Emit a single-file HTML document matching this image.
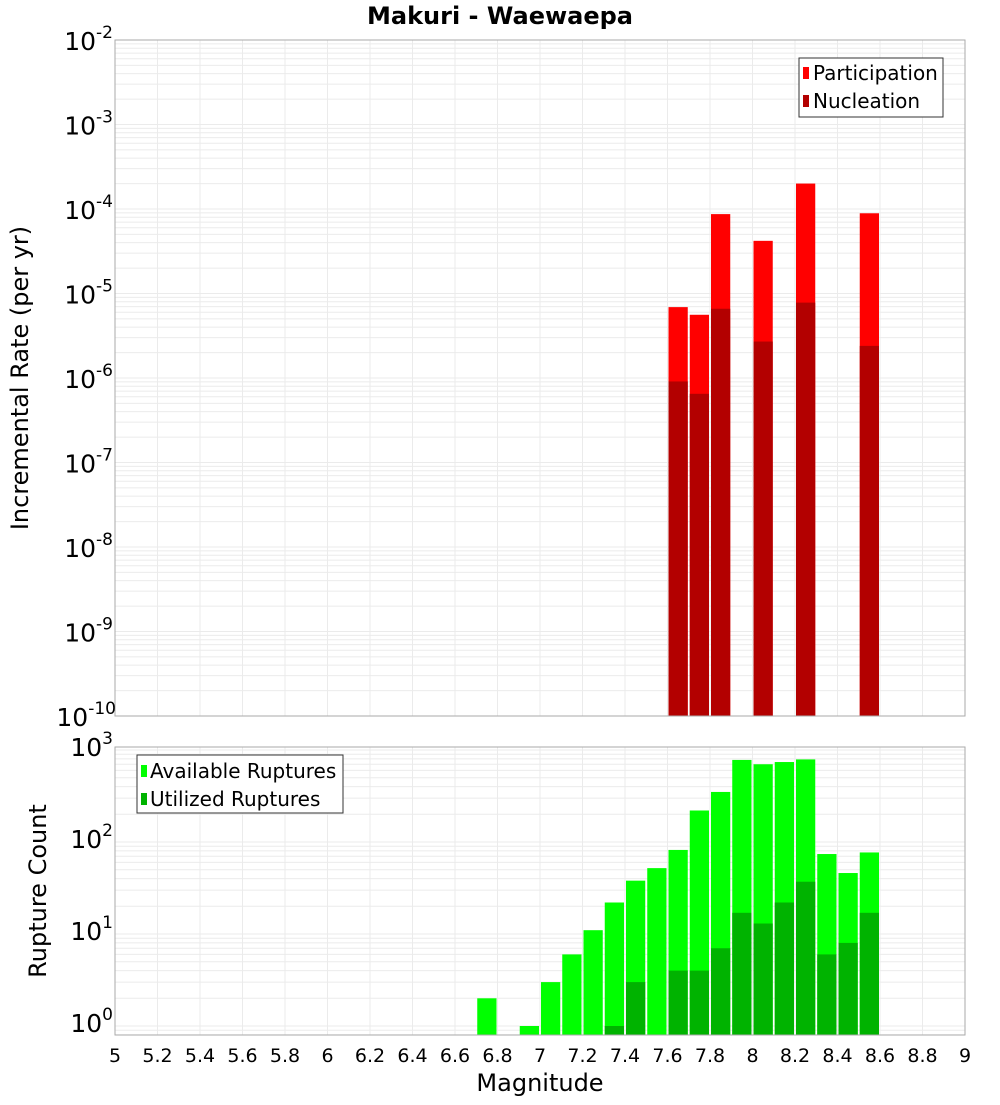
<!DOCTYPE html>
<html><head><meta charset="utf-8"><style>
body{margin:0;background:#fff;width:1000px;height:1100px;overflow:hidden}
svg{font-family:"DejaVu Sans","Liberation Sans",sans-serif}
</style></head><body>
<svg id="c" width="1000" height="1100" xmlns="http://www.w3.org/2000/svg"></svg>
<script>
const binCenters=[7.65,7.75,7.85,8.05,8.25,8.55];
const participation=[6.9e-6,5.6e-6,8.7e-5,4.2e-5,2.0e-4,8.9e-5];
const nucleation=[9.1e-7,6.5e-7,6.6e-6,2.7e-6,7.8e-6,2.4e-6];
const countBins=[6.75,6.95,7.05,7.15,7.25,7.35,7.45,7.55,7.65,7.75,7.85,7.95,8.05,8.15,8.25,8.35,8.45,8.55];
const available=[2,1,3,6,11,22,38,52,82,220,350,780,700,740,790,74,46,77];
const utilized=[0,0,0,0,0,1,3,0,4,4,7,17,13,22,37,6,8,17];
const xTicks=[5,5.2,5.4,5.6,5.8,6,6.2,6.4,6.6,6.8,7,7.2,7.4,7.6,7.8,8,8.2,8.4,8.6,8.8,9];
const topExps=[-2,-3,-4,-5,-6,-7,-8,-9,-10];
const botExps=[0,1,2,3];

const NS="http://www.w3.org/2000/svg",svg=document.getElementById('c');
function el(t,a,p){const e=document.createElementNS(NS,t);for(const k in a)e.setAttribute(k,a[k]);(p||svg).appendChild(e);return e;}
const L=115,R=965;
const X=v=>L+(v-5)/4*(R-L);
const T0=40,T1=716,Yt=v=>T0+(-2-Math.log10(v))*(T1-T0)/8;
const B0=747,B1=1035,Yb=v=>1026-Math.log10(v)*92;

function grid(top,bot,yf,lo,hi,name){
  const g=el('g',{});
  
  
  for(const t of xTicks) el('line',{x1:X(t),x2:X(t),y1:top,y2:bot,stroke:'#ebebeb'},g);
  for(let e=lo;e<=hi;e++)for(let m=1;m<10;m++){const y=yf(m*Math.pow(10,e));if(y>=top&&y<=bot)el('line',{x1:L,x2:R,y1:y,y2:y,stroke:'#ebebeb'},g);}
}
grid(T0,T1,Yt,-10,-3,'top-grid');
grid(B0,B1,Yb,-1,3,'bottom-grid');

binCenters.forEach((c,i)=>{
  const x=X(c-0.05)+1,w=X(0.1)-X(0)-2;
  const p=el('rect',{x:x,y:Yt(participation[i]),width:w,height:T1-Yt(participation[i]),fill:'#ff0000'});
  
  
  const n=el('rect',{x:x,y:Yt(nucleation[i]),width:w,height:T1-Yt(nucleation[i]),fill:'#b30000'});
  
  
});
countBins.forEach((c,i)=>{
  const x=X(c-0.05)+1,w=X(0.1)-X(0)-2;
  if(available[i]>0){const a=el('rect',{x:x,y:Yb(available[i]),width:w,height:B1-Yb(available[i]),fill:'#00ff00'});
  
  }
  if(utilized[i]>0){const u=el('rect',{x:x,y:Yb(utilized[i]),width:w,height:B1-Yb(utilized[i]),fill:'#00b300'});
  
  }
});
el('rect',{x:L,y:T0,width:R-L,height:T1-T0,fill:'none',stroke:'#aaa'});
el('rect',{x:L,y:B0,width:R-L,height:B1-B0,fill:'none',stroke:'#aaa'});

function pow(x,y,e,name){
  const t=el('text',{x:x,y:y,'font-size':25,'text-anchor':'end',fill:'#000'});
  
  
  t.textContent='10';
  const s=el('tspan',{dy:-12,'font-size':17});s.textContent=e;t.appendChild(s);
}
topExps.forEach(e=>pow(e===-10?116:113,Yt(Math.pow(10,e))+10,e,'y-tick-label'));
botExps.forEach(e=>pow(113,Yb(Math.pow(10,e))+6,e,'y2-tick-label'));
xTicks.forEach(t=>{const s=el('text',{x:X(t),y:1062,'font-size':19,'text-anchor':'middle'});
  
  
  s.textContent=String(t);});
</script>
<svg width="1000" height="1100" style="position:absolute;left:0;top:0" xmlns="http://www.w3.org/2000/svg" font-family="DejaVu Sans,sans-serif">
<text x="500" y="24" font-size="24" font-weight="bold" text-anchor="middle">Makuri - Waewaepa</text>
<text x="540" y="1091" font-size="24" text-anchor="middle">Magnitude</text>
<text transform="translate(28,378) rotate(-90)" font-size="24" text-anchor="middle">Incremental Rate (per yr)</text>
<text transform="translate(46,891) rotate(-90)" font-size="24" text-anchor="middle">Rupture Count</text>
<g font-size="20">
<rect x="799" y="58" width="144" height="59" fill="#fff" stroke="#333"/>
<rect x="803" y="67" width="6" height="12" fill="#ff0000"/><text x="813" y="80">Participation</text>
<rect x="803" y="95" width="6" height="12" fill="#b30000"/><text x="813" y="108">Nucleation</text>
</g>
<g font-size="20">
<rect x="137" y="755" width="206" height="58" fill="#fff" stroke="#333"/>
<rect x="141" y="765" width="6" height="12" fill="#00ff00"/><text x="150" y="778">Available Ruptures</text>
<rect x="141" y="793" width="6" height="12" fill="#00b300"/><text x="150" y="806">Utilized Ruptures</text>
</g>
</svg>
</body></html>
